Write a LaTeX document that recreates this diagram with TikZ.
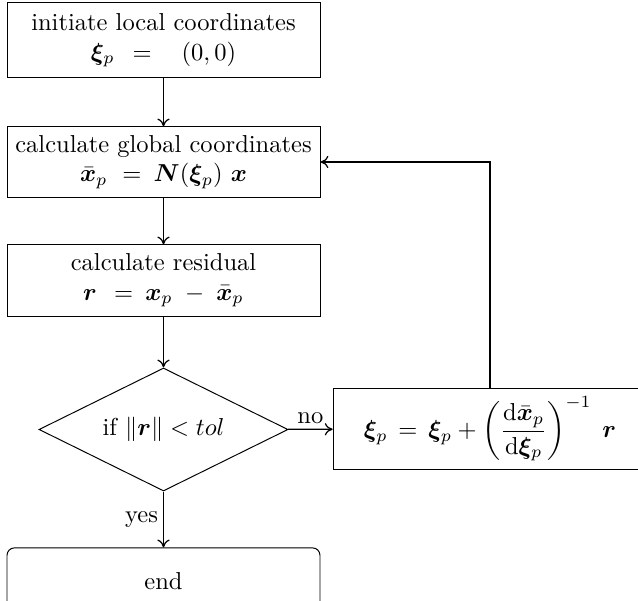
\documentclass[tikz,border=0pt]{standalone}
\usepackage{amsmath,bm}
\usetikzlibrary{shapes.geometric,arrows.meta}
\begin{document}
\begin{tikzpicture}[x=0.408pt,y=-0.408pt,
  box/.style={draw,line width=0.4pt,rectangle,align=center,inner sep=2pt,minimum width=127.7pt},
  cond/.style={draw,line width=0.4pt,diamond,aspect=2,inner sep=0pt,minimum width=101.6pt,minimum height=50.2pt},
  flow/.style={line width=0.5pt,-{To[length=3.2pt,width=5pt]}},
  lbl/.style={inner sep=2pt}]
\useasboundingbox (0,0) rectangle (638,601);
\clip (0,0) rectangle (638,601);
\node[box,minimum height=30.6pt] (b1) at (163.5,40.5)
  {initiate local coordinates\\ $\bm{\xi}_p\hspace{4.5pt}=\hspace{9.5pt}(0,0)$};
\node[box,minimum height=28.6pt] (b2) at (163.5,162)
  {calculate global coordinates\\ $\bar{\bm{x}}_p\hspace{3.3pt}=\hspace{2.2pt}\bm{N}(\bm{\xi}_p)\ \bm{x}$};
\node[box,minimum height=29pt] (b3) at (163.5,280.5)
  {calculate residual\\ $\bm{r}\hspace{4.2pt}=\hspace{2.2pt}\bm{x}_p\;-\;\bar{\bm{x}}_p$};
\node[cond] (d) at (163.5,429.5) {if $\|\bm{r}\| < tol$};
\node[box,inner ysep=0pt,minimum height=33pt,minimum width=128pt] (u) at (490,429)
  {$\displaystyle \bm{\xi}_p \,=\, \bm{\xi}_p + \left(\frac{\mathrm{d}\bar{\bm{x}}_p}{\mathrm{d}\bm{\xi}_p}\right)^{-1}\;\bm{r}$};
\node[box,rounded corners=3pt,minimum height=27pt] (e) at (163.5,581) {end};
\draw[flow] (b1) -- (b2);
\draw[flow] (b2) -- (b3);
\draw[flow] (b3) -- (d);
\draw[flow] (d) -- node[lbl,above] {no} (u);
\draw[flow] (d) -- node[lbl,left] {yes} (e);
\draw[flow] (u.north) |- (b2.east);
\end{tikzpicture}
\end{document}
